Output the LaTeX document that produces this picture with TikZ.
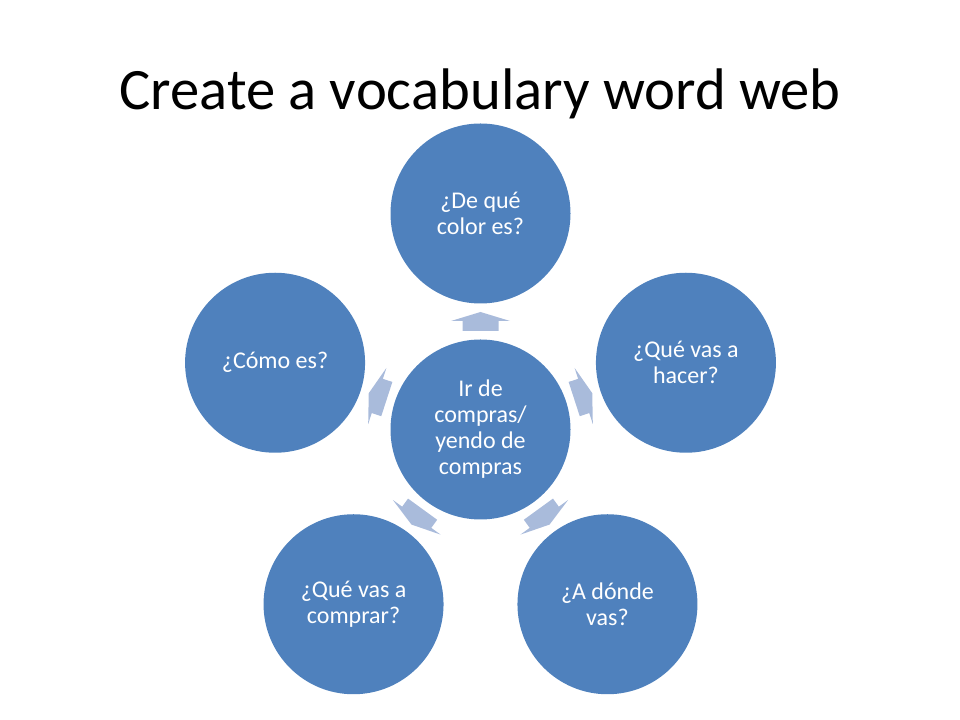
\documentclass[tikz,border=0pt]{standalone}
\usepackage{fontspec}
\setmainfont{Carlito}
\usetikzlibrary{calc}
\definecolor{webblue}{HTML}{4F81BD}
\definecolor{spokeblue}{HTML}{A9BBDB}
\begin{document}
\begin{tikzpicture}[x=0.75pt, y=0.75pt,
		bubble/.style={circle, fill=webblue, text=white, minimum size=135pt, inner sep=0pt, align=center, font=\fontsize{18}{19.5}\selectfont},
		spoke/.style={fill=spokeblue}]
		\useasboundingbox (0,0) rectangle (960,720);
		
		% Title
		\node[anchor=base, font=\fontsize{44}{48}\selectfont] (title) at (480,610) {Create a vocabulary word web};
		
		% Nodes in a circle
		\node[bubble] (hub) at (480.5,290.5) {Ir de\\compras/\\yendo de\\compras};
		\node[bubble] (top) at ($(hub)+(90:216)$) {¿De qué\\color es?};
		\node[bubble] (right) at ($(hub)+(18:216)$) {¿Qué vas a\\hacer?};
		\node[bubble] (lowright) at ($(hub)+(-54:216)$) {¿A dónde\\vas?};
		\node[bubble] (lowleft) at ($(hub)+(-126:216)$) {¿Qué vas a\\comprar?};
		\node[bubble] (left) at ($(hub)+(162:216)$) {¿Cómo es?};
		
		% Arrows
		\foreach \ang/\to in {90/top, 18/right, -54/lowright, -126/lowleft, 162/left}
			\fill[spoke, shift={($(hub)!0.5!(\to)$)}, rotate=\ang]
				(-9.5,-18) -- (0.5,-18) -- (0.5,-29.5) -- (9.5,0) -- (0.5,29.5) -- (0.5,18) -- (-9.5,18) -- cycle;
		
	\end{tikzpicture}
\end{document}
